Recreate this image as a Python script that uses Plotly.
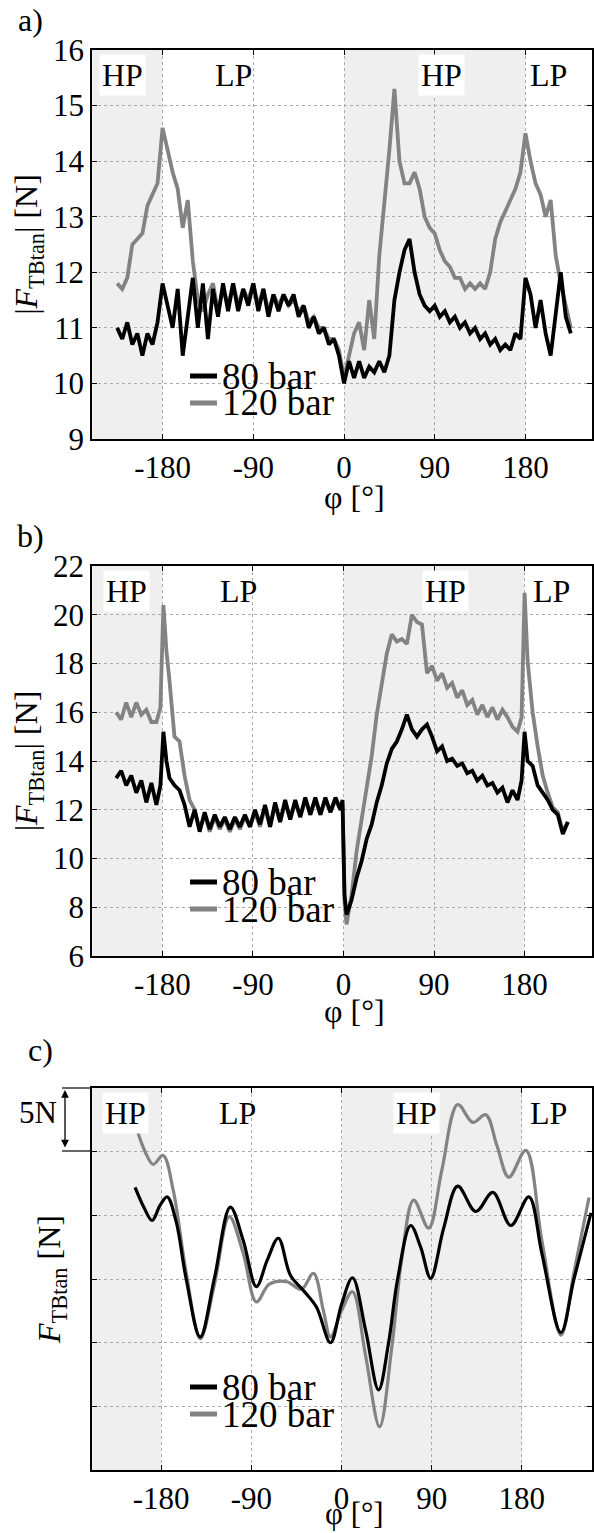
import plotly.graph_objects as go

# ---------------- data ----------------
# panel a
phi_a = [-225,-220,-215,-210,-205,-200,-195,-190,-185,-180,-175,-170,-165,-160,-155,-150,-145,-140,-135,-130,
         -125,-120,-115,-110,-105,-100,-95,-90,-85,-80,-75,-70,-65,-60,-55,-50,-45,-40,-35,-30,
         -25,-20,-15,-10,-5,0,5,10,15,20,25,30,35,40,45,50,55,60,65,70,
         75,80,85,90,95,100,105,110,115,120,125,130,135,140,145,150,155,160,165,170,
         175,180,185,190,195,200,205,210,215,220,225]
a_80 = [11.0,10.8,11.1,10.7,10.9,10.5,10.9,10.7,11.1,11.8,11.4,11.0,11.7,10.5,11.2,11.9,11.0,11.8,10.8,11.7,
        11.2,11.8,11.3,11.8,11.3,11.7,11.4,11.8,11.3,11.7,11.2,11.6,11.3,11.6,11.4,11.6,11.2,11.4,11.0,11.2,
        10.9,11.0,10.7,10.8,10.5,10.0,10.4,10.1,10.4,10.1,10.3,10.2,10.4,10.2,10.5,11.5,12.0,12.4,12.6,12.0,
        11.6,11.4,11.3,11.4,11.2,11.3,11.1,11.2,11.0,11.1,10.9,11.0,10.8,10.9,10.7,10.8,10.6,10.7,10.6,10.9,
        10.8,11.9,11.6,11.0,11.5,10.9,10.5,11.3,12.0,11.2,10.9]
a_120 = [11.8,11.7,11.9,12.5,12.6,12.7,13.2,13.4,13.6,14.6,14.2,13.8,13.5,12.8,13.3,12.2,11.5,11.3,11.6,11.8,
         11.3,11.7,11.4,11.8,11.4,11.7,11.5,11.8,11.4,11.7,11.3,11.6,11.4,11.6,11.4,11.5,11.3,11.4,11.1,11.2,
         11.0,11.0,10.8,10.8,10.6,10.1,10.5,10.9,11.1,10.6,11.5,10.8,12.3,13.2,14.2,15.3,14.0,13.6,13.6,13.8,
         13.5,13.0,12.8,12.7,12.4,12.2,12.1,11.9,11.9,11.7,11.8,11.7,11.8,11.7,12.0,12.6,12.9,13.1,13.3,13.5,
         13.8,14.5,14.0,13.6,13.4,13.0,13.3,12.3,11.8,11.4,11.0]

# panel b
phi_b = [-226,-221,-216,-211,-206,-201,-196,-191,-186,-182,-179,-176,-173,-168,-163,-158,-153,-148,
         -143,-138,-133,-128,-123,-118,-113,-108,-103,-98,-93,-88,-83,-78,-73,-68,-63,-58,-53,-48,
         -43,-38,-33,-28,-23,-18,-13,-8,-3,-1,1,3,8,13,18,23,28,33,38,43,
         48,53,58,63,68,73,78,83,88,93,98,103,108,113,118,123,128,133,138,143,
         148,153,158,163,168,173,177,180,183,188,193,198,203,208,213,218,223]
b_80 = [13.3,13.6,13.0,13.4,12.7,13.2,12.3,13.1,12.2,13.0,15.2,14.0,13.3,13.0,12.8,12.2,11.3,12.0,
        11.1,11.9,11.2,11.8,11.3,11.7,11.2,11.7,11.3,11.8,11.3,12.0,11.4,12.2,11.3,12.3,11.5,12.4,11.6,12.4,
        11.7,12.5,11.8,12.5,11.8,12.5,11.9,12.5,12.0,12.4,8.5,7.7,8.3,9.2,9.9,10.8,11.4,12.3,13.0,13.9,
        14.5,14.8,15.3,15.9,15.3,15.0,15.3,15.5,15.0,14.4,14.6,14.0,14.1,13.8,13.9,13.5,13.6,13.2,13.4,13.0,
        13.1,12.7,12.9,12.3,12.8,12.4,13.2,15.2,14.0,13.8,13.0,12.7,12.4,12.0,11.8,11.0,11.5]
b_120 = [16.0,15.7,16.4,15.8,16.4,15.9,16.1,15.6,15.6,16.2,20.4,18.5,17.3,15.0,14.8,13.4,12.4,12.0,
         11.2,11.8,11.1,11.7,11.2,11.6,11.1,11.6,11.2,11.7,11.3,11.9,11.3,12.1,11.3,12.2,11.5,12.3,11.6,12.3,
         11.7,12.4,11.8,12.4,11.8,12.4,11.9,12.4,12.0,12.3,8.2,7.3,8.5,10.3,11.6,13.0,14.2,15.9,17.2,18.4,
         19.2,18.9,19.0,18.8,20.0,19.7,19.6,17.6,17.9,17.3,17.6,17.0,17.2,16.6,16.9,16.3,16.5,15.9,16.3,15.8,
         16.2,15.7,16.1,15.8,15.4,15.2,15.8,20.9,18.1,16.0,14.6,13.4,12.7,12.1,11.9,11.1,11.5]

# panel c
phi_c80 = [-206,-197,-189,-181,-174,-165,-155,-141,-127,-111,-98,-85,-74,-63,-51,-38,-25,-11,0,11,
           24,37,47,56,69,79,89,102,116,134,151,169,187,200,219,232,249]
c_80 = [22.2,20.6,19.6,20.8,21.45,19.5,15.0,10.45,15.0,20.65,18.0,14.4,16.5,18.2,15.3,14.1,12.8,10.0,13.0,15.1,
        11.0,6.3,10.0,15.0,19.2,17.5,15.05,19.0,22.3,20.3,21.8,19.2,21.45,17.0,10.8,15.0,20.2]
phi_c120 = [-204,-196,-188,-178,-168,-155,-141,-127,-112,-98,-85,-72,-55,-40,-28,-18,-11,0,11,24,
            38,50,60,72,87,100,116,131,144,155,167,184,200,219,232,247]
c_120 = [26.7,25.0,24.0,24.7,22.0,15.5,10.3,14.5,19.9,17.0,13.2,14.6,14.8,14.2,15.45,12.5,10.45,12.5,14.0,9.0,
         3.4,9.5,16.5,21.2,19.0,23.5,28.7,27.3,27.9,25.5,23.0,25.1,18.0,10.6,15.5,21.4]

x_ticks = [-180, -90, 0, 90, 180]
x_ticktext = ["-180", "-90", "0", "90", "180"]
labels = ["80 bar", "120 bar"]
colors = ["#000000", "#838383"]

FONT = "Liberation Serif, Times New Roman, serif"
W, H = 594, 1533
ML, MR = 92, 2
PW = W - ML - MR
GRID = "#ababab"

fig = go.Figure()

def px_x(p):
    return (p - ML) / PW

def px_y(p):
    return 1 - p / H

panels = [
    dict(x=phi_a, ys=[a_80, a_120], xr=[-250, 246], yr=[9, 16], top=50, bot=439,
         yt=list(range(9, 17)), showy=True, lw=3.8, hp=[-220, 97], lp=[-110, 203], laby=15.55,
         leg_y=[376, 403], letter="a)", ly=20, lx=30, xt_y=497, xt_size=32),
    dict(x=phi_b, ys=[b_80, b_120], xr=[-250, 247], yr=[6, 22], top=566, bot=956,
         yt=list(range(6, 23, 2)), showy=True, lw=3.8, hp=[-216, 101], lp=[-104, 207], laby=20.98,
         leg_y=[882, 909], letter="b)", ly=536, lx=30, xt_y=1011, xt_size=32),
    dict(x=None, ys=[c_80, c_120], xr=[-249, 250], yr=[0, 30], top=1088, bot=1470,
         yt=list(range(0, 31, 5)), showy=False, lw=3.2, hp=[-216, 75], lp=[-104, 207], laby=28.0,
         leg_y=[1387, 1414], letter="c)", ly=1050, lx=40, xt_y=1513, xt_size=31),
]

for i, p in enumerate(panels):
    n = "" if i == 0 else str(i + 1)
    xa, ya = "x" + n, "y" + n
    if i < 2:
        xs = [p["x"], p["x"]]
    else:
        xs = [phi_c80, phi_c120]
    for k in (1, 0):
        fig.add_trace(go.Scatter(
            x=xs[k], y=p["ys"][k], mode="lines", name=labels[k], showlegend=False,
            line=dict(color=colors[k], width=p["lw"], shape="spline" if i == 2 else "linear",
                      smoothing=1.0 if i == 2 else 0),
            xaxis=xa, yaxis=ya))
    dom_y = [px_y(p["bot"]), px_y(p["top"])]
    fig.layout["xaxis" + n] = dict(
        domain=[0, 1], range=p["xr"], anchor=ya, automargin=False,
        tickmode="array", tickvals=x_ticks, ticktext=x_ticktext,
        ticks="inside", ticklen=5, tickcolor="black", mirror="ticks",
        showline=True, linecolor="black", linewidth=1.5,
        showgrid=True, gridcolor=GRID, griddash="dot", gridwidth=1,
        zeroline=False, tickfont=dict(family=FONT, size=31, color="black"),
    )
    ytitle = "|<i>F</i><sub>TBtan</sub>| [N]" if i < 2 else "<i>F</i><sub>TBtan</sub> [N]"
    fig.layout["yaxis" + n] = dict(
        domain=dom_y, range=p["yr"], anchor=xa, automargin=False,
        tickmode="array", tickvals=p["yt"],
        ticktext=[str(v) for v in p["yt"]] if p["showy"] else [" "] * len(p["yt"]),
        ticks="inside", ticklen=5, tickcolor="black", mirror="ticks",
        showline=True, linecolor="black", linewidth=1.5,
        showgrid=True, gridcolor=GRID, griddash="dot", gridwidth=1,
        zeroline=False, tickfont=dict(family=FONT, size=31, color="black"),
        title=dict(text=ytitle, font=dict(family=FONT, size=32, color="black"), standoff=6),
    )
    # x-axis title
    fig.add_annotation(x=px_x(354), y=px_y(p["xt_y"]), xref="paper", yref="paper", text="φ [°]",
                       showarrow=False, xanchor="center", yanchor="middle", borderpad=0,
                       font=dict(family=FONT, size=p["xt_size"], color="black"))
    # shaded HP regions
    for x0, x1 in ((p["xr"][0], -180), (0, 180)):
        fig.add_shape(type="rect", xref=xa, yref=ya + " domain", x0=x0, x1=x1, y0=0, y1=1,
                      fillcolor="#efefef", line=dict(width=0), layer="below")
    # HP / LP labels
    for xv in p["hp"]:
        fig.add_annotation(x=xv, y=p["laby"], xref=xa, yref=ya, text="HP", showarrow=False,
                           bgcolor="white", borderpad=2, xanchor="center", yanchor="middle",
                           font=dict(family=FONT, size=32, color="black"))
    for xv in p["lp"]:
        fig.add_annotation(x=xv, y=p["laby"], xref=xa, yref=ya, text="LP", showarrow=False,
                           xanchor="center", yanchor="middle",
                           font=dict(family=FONT, size=32, color="black"))
    # legend (line samples + labels)
    for k in range(2):
        yy = px_y(p["leg_y"][k])
        fig.add_shape(type="line", xref="paper", yref="paper", x0=px_x(190), x1=px_x(217), y0=yy, y1=yy,
                      line=dict(color=colors[k], width=5))
        fig.add_annotation(x=px_x(221), y=yy, xref="paper", yref="paper", text=labels[k], showarrow=False,
                           xanchor="left", yanchor="middle", borderpad=0,
                           font=dict(family=FONT, size=37, color="black"))
    # panel letter
    fig.add_annotation(x=px_x(p["lx"]), y=px_y(p["ly"]), xref="paper", yref="paper", text=p["letter"],
                       showarrow=False, xanchor="center", yanchor="middle",
                       font=dict(family=FONT, size=32, color="black"))

# 5N scale bar in panel c
fig.add_annotation(x=px_x(65), y=px_y(1090), xref="paper", yref="paper",
                   ax=0, ay=59, axref="pixel", ayref="pixel", text="", showarrow=True,
                   arrowside="end+start", arrowhead=2, arrowsize=1.2, arrowwidth=1.3, arrowcolor="black")
for yy in (1088, 1151):
    fig.add_shape(type="line", xref="paper", yref="paper", x0=px_x(62), x1=px_x(92), y0=px_y(yy), y1=px_y(yy),
                  line=dict(color="black", width=1.2))
fig.add_annotation(x=px_x(38), y=px_y(1112), xref="paper", yref="paper", text="5N", showarrow=False,
                   xanchor="center", yanchor="middle",
                   font=dict(family=FONT, size=31, color="black"))

fig.update_layout(width=W, height=H, margin=dict(l=ML, r=MR, t=0, b=0, autoexpand=False),
                  paper_bgcolor="white", plot_bgcolor="white", showlegend=False)
fig.write_html("out.html")
